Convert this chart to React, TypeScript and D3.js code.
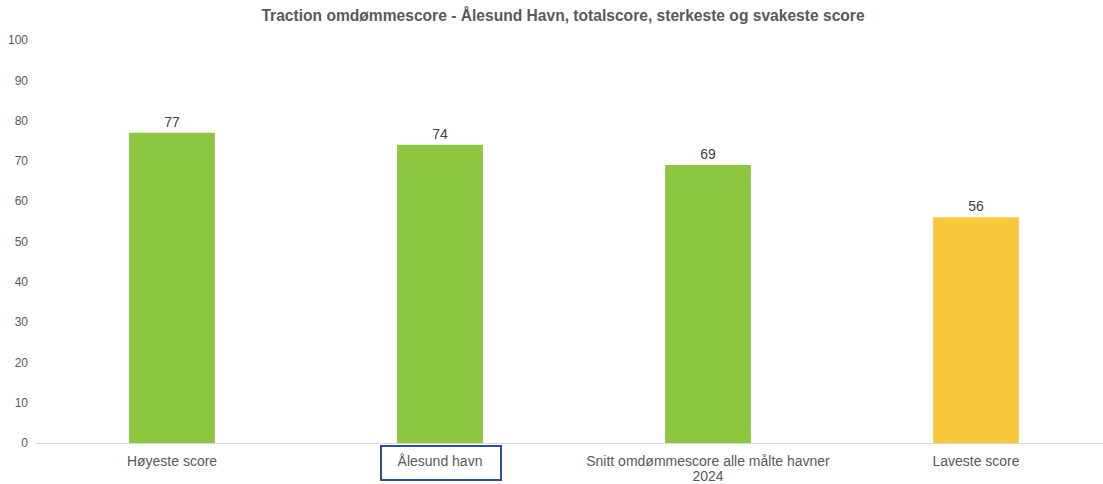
import React, { useEffect, useRef } from 'react';
import * as d3 from 'd3';

const categories = [
  'Høyeste score',
  'Ålesund havn',
  'Snitt omdømmescore alle målte havner 2024',
  'Laveste score',
];
const scores = [77, 74, 69, 56];
const barColors = ['#8dc63f', '#8dc63f', '#8dc63f', '#f8c73c'];
const yTicks = [0, 10, 20, 30, 40, 50, 60, 70, 80, 90, 100];
const highlighted = 'Ålesund havn';

const W = 1103;
const H = 484;

const draw = (el: SVGSVGElement) => {
  // clear previous render
  d3.select(el).selectAll('*').remove();

  const svg = d3.select(el).attr('width', W).attr('height', H);
  const font = '"Liberation Sans", Arial, sans-serif';

  const x = d3
    .scaleBand()
    .domain(categories)
    .range([38, 1110])
    .paddingInner(0.68)
    .paddingOuter(0.34);

  const y = d3.scaleLinear().domain([0, 100]).range([443, 40]);

  svg
    .append('text')
    .attr('x', 563)
    .attr('y', 21)
    .attr('text-anchor', 'middle')
    .attr('font-family', font)
    .attr('font-size', 15.6)
    .attr('font-weight', 'bold')
    .attr('fill', '#595959')
    .text('Traction omdømmescore - Ålesund Havn, totalscore, sterkeste og svakeste score');

  // y tick labels
  svg
    .append('g')
    .selectAll('text')
    .data(yTicks)
    .enter()
    .append('text')
    .attr('x', 28)
    .attr('y', d => y(d))
    .attr('dy', '0.35em')
    .attr('text-anchor', 'end')
    .attr('font-family', font)
    .attr('font-size', 12)
    .attr('fill', '#595959')
    .text(d => d);

  const data = categories.map((c, i) => ({ c, v: scores[i], color: barColors[i] }));

  svg
    .append('g')
    .selectAll('rect')
    .data(data)
    .enter()
    .append('rect')
    .attr('x', d => x(d.c))
    .attr('y', d => y(d.v))
    .attr('width', x.bandwidth())
    .attr('height', d => y(0) - y(d.v))
    .attr('fill', d => d.color);

  // baseline
  svg
    .append('line')
    .attr('x1', 36)
    .attr('x2', W)
    .attr('y1', y(0) + 0.5)
    .attr('y2', y(0) + 0.5)
    .attr('stroke', '#d9d9d9')
    .attr('stroke-width', 1);

  // value labels
  svg
    .append('g')
    .selectAll('text')
    .data(data)
    .enter()
    .append('text')
    .attr('x', d => x(d.c) + x.bandwidth() / 2)
    .attr('y', d => y(d.v) - 6)
    .attr('text-anchor', 'middle')
    .attr('font-family', font)
    .attr('font-size', 14)
    .attr('fill', '#404040')
    .text(d => d.v);

  // category labels, wrapped
  const catG = svg.append('g');
  data.forEach(d => {
    const cx = x(d.c) + x.bandwidth() / 2;
    const lines =
      d.c.length > 30
        ? ['Snitt omdømmescore alle målte havner', '2024']
        : [d.c];
    const t = catG
      .append('text')
      .attr('text-anchor', 'middle')
      .attr('font-family', font)
      .attr('font-size', 14)
      .attr('fill', '#595959');
    lines.forEach((l, i) => {
      t.append('tspan').attr('x', cx).attr('y', 466 + i * 15).text(l);
    });
    if (d.c === highlighted) {
      catG
        .append('rect')
        .attr('x', cx - 59)
        .attr('y', 446)
        .attr('width', 120)
        .attr('height', 34)
        .attr('fill', 'none')
        .attr('stroke', '#2e4d9b')
        .attr('stroke-width', 2);
    }
  });
};

export default function App() {
  const ref = useRef<SVGSVGElement>(null);
  useEffect(() => {
    if (ref.current) draw(ref.current);
  }, []);
  return (
    <svg
      ref={ref}
      style={{ position: 'absolute', left: 0, top: 0, background: '#fff' }}
    />
  );
}
